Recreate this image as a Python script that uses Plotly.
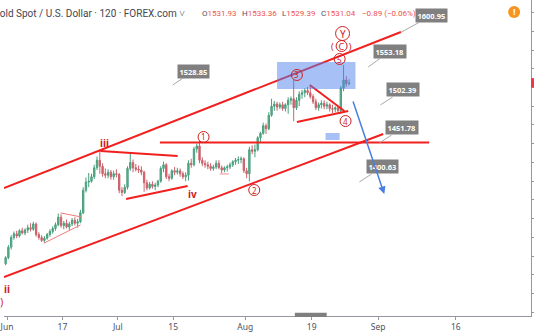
import plotly.graph_objects as go
import pandas as pd

# ---------------- candle data (12h bars) ----------------
days = pd.bdate_range("2019-06-03", "2019-08-27")
bar_times = ["2019-05-31 18:00"] + [f"{d:%Y-%m-%d} {h}" for d in days for h in ("06:00", "18:00")]

opens = [1290,
    1298,1312, 1325,1330, 1327,1334, 1331,1335, 1338,1336,
    1343,1329, 1325,1321, 1324,1329, 1333,1337, 1342,1352,
    1341,1344, 1339,1343, 1348,1344, 1346,1358, 1388,1399,
    1400,1406, 1418,1428, 1420,1410, 1408,1412, 1406,1410,
    1409,1388, 1385,1392, 1417,1425, 1418,1416, 1415,1412,
    1398,1391, 1396,1393, 1395,1400, 1417,1422, 1406,1404,
    1414,1412, 1414,1410, 1406,1408, 1424,1422, 1443,1447,
    1428,1424, 1422,1420, 1417,1419, 1424,1418, 1415,1418,
    1419,1422, 1426,1428, 1429,1430, 1414,1410, 1442,1440,
    1442,1458, 1464,1474, 1470,1488, 1500,1503, 1499,1502,
    1497,1502, 1508,1510, 1498,1508, 1516,1518, 1521,1518,
    1513,1506, 1498,1502, 1504,1500, 1502,1497, 1496,1498,
    1494,1524, 1535,1530]
highs = [1300,
    1315,1328, 1333,1334, 1336,1338, 1337,1342, 1344,1346,
    1345,1332, 1328,1327, 1331,1336, 1340,1345, 1357,1356,
    1347,1349, 1346,1351, 1352,1350, 1362,1392, 1405,1411,
    1410,1422, 1433,1442, 1424,1417, 1416,1415, 1414,1416,
    1411,1392, 1396,1420, 1437,1429, 1423,1421, 1420,1414,
    1402,1399, 1400,1398, 1402,1420, 1426,1424, 1410,1416,
    1419,1418, 1417,1413, 1412,1428, 1430,1446, 1450,1454,
    1432,1428, 1426,1424, 1422,1428, 1428,1421, 1420,1422,
    1425,1428, 1431,1433, 1433,1432, 1418,1446, 1448,1449,
    1460,1466, 1478,1477, 1492,1510, 1507,1506, 1505,1506,
    1504,1512, 1513,1535, 1512,1520, 1522,1524, 1526,1528,
    1516,1510, 1505,1508, 1508,1506, 1504,1502, 1500,1500,
    1527,1555, 1540,1536]
lows = [1288,
    1296,1309, 1322,1324, 1325,1329, 1328,1331, 1333,1334,
    1326,1322, 1319,1318, 1322,1326, 1330,1334, 1340,1338,
    1336,1337, 1335,1340, 1341,1338, 1344,1356, 1385,1392,
    1398,1403, 1415,1410, 1406,1404, 1404,1402, 1402,1405,
    1384,1380, 1383,1389, 1414,1412, 1413,1411, 1408,1386,
    1388,1389, 1390,1388, 1392,1398, 1412,1403, 1400,1402,
    1408,1409, 1406,1403, 1400,1401, 1418,1420, 1438,1424,
    1420,1418, 1416,1414, 1414,1416, 1416,1411, 1412,1413,
    1416,1419, 1422,1423, 1424,1411, 1404,1400, 1436,1432,
    1440,1452, 1462,1463, 1468,1486, 1494,1494, 1496,1494,
    1493,1490, 1502,1480, 1495,1500, 1510,1512, 1515,1510,
    1503,1495, 1494,1497, 1496,1496, 1493,1491, 1492,1490,
    1490,1520, 1526,1528]
closes = [1298,
    1312,1325, 1330,1327, 1334,1331, 1335,1338, 1336,1343,
    1329,1325, 1321,1324, 1329,1333, 1337,1342, 1352,1341,
    1344,1339, 1343,1348, 1344,1346, 1358,1388, 1399,1400,
    1406,1418, 1428,1420, 1410,1408, 1412,1406, 1410,1409,
    1388,1385, 1392,1417, 1425,1418, 1416,1415, 1412,1398,
    1391,1396, 1393,1395, 1400,1417, 1422,1406, 1404,1414,
    1412,1414, 1410,1406, 1408,1424, 1422,1443, 1447,1428,
    1424,1422, 1420,1417, 1419,1424, 1418,1415, 1418,1419,
    1422,1426, 1428,1429, 1430,1414, 1410,1442, 1440,1442,
    1458,1464, 1474,1470, 1488,1500, 1503,1499, 1502,1497,
    1502,1508, 1510,1498, 1508,1516, 1518,1521, 1518,1513,
    1506,1498, 1502,1504, 1500,1502, 1497,1496, 1498,1494,
    1524,1535, 1530,1531]

# ---------------- drawn trend lines (date, price) ----------------
upper_channel_x = ["2019-05-31 11:00", "2019-09-06 02:24"]
upper_channel_y = [1391.0, 1599.0]
lower_channel_x = ["2019-05-31 11:00", "2019-09-02 21:36"]
lower_channel_y = [1272.3, 1463.0]
level_x = ["2019-07-10 14:24", "2019-09-11 05:00"]
level_y = [1451.78, 1451.78]
iii_upper_x = ["2019-06-25 20:24", "2019-07-15 19:12"]
iii_upper_y = [1440.3, 1433.7]
iii_lower_x = ["2019-07-02 12:00", "2019-07-17 14:24"]
iii_lower_y = [1376.3, 1393.7]
small_upper_x = ["2019-06-14 16:19", "2019-06-20 10:34"]
small_upper_y = [1357.7, 1352.3]
small_lower_x = ["2019-06-11 15:07", "2019-06-20 06:14"]
small_lower_y = [1317.3, 1341.7]
aug_upper_x = ["2019-08-16 15:50", "2019-08-26 21:36"]
aug_upper_y = [1528.3, 1493.7]
aug_lower_x = ["2019-08-14 07:55", "2019-08-27 14:24"]
aug_lower_y = [1479.0, 1493.7]
dash_x = ["2019-07-25 09:36", "2019-07-30 04:48"]
dash_y = [1409.7, 1409.7]

# boxes
zone_x = ["2019-08-08 18:00", "2019-08-28 21:36"]
zone_y = [1523.0, 1559.0]
mini_x = ["2019-08-21 12:00", "2019-08-26 01:00"]
mini_y = [1455.0, 1464.3]

# projection arrow (start, end)
arrow_x = ["2019-08-28 09:00", "2019-09-03 02:24"]
arrow_y = [1508.3, 1383.0]

# wave labels
circle_labels = ["1", "2", "3", "4", "5"]
circle_x = ["2019-07-22 11:30", "2019-08-02 15:00", "2019-08-14 08:00", "2019-08-27 02:40", "2019-08-26 01:00"]
circle_y = [1459.0, 1388.3, 1541.7, 1480.3, 1563.0]
roman_labels = ["iii", "iv", "ii"]
roman_x = ["2019-06-26 13:30", "2019-07-18 12:15", "2019-06-03 00:00"]
roman_y = [1451.0, 1383.0, 1256.3]

# price labels (text, anchor date, anchor price)
price_labels = ["1600.95", "1553.18", "1528.85", "1502.39", "1451.78", "1400.63"]
price_label_x = ["2019-09-06 02:24", "2019-08-31 04:48", "2019-07-12 21:36",
                 "2019-09-02 09:36", "2019-09-02 04:48", "2019-08-29 14:24"]
price_label_y = [1598.5, 1552.3, 1528.3, 1501.7, 1451.0, 1399.0]
label_dx = [31, 22, 21, 23, 23, 23]
label_dy = [-17, -16, -14, -15, -15, -15]

# header quote
quote_keys = ["O", "H", "L", "C"]
quote_vals = ["1531.93", "1533.36", "1529.39", "1531.04"]
quote_change = "−0.89 (−0.06%)"

tick_dates = ["2019-06-03", "2019-06-17", "2019-07-01", "2019-07-15",
              "2019-08-01", "2019-08-19", "2019-09-02", "2019-09-16"]
tick_text = ["Jun", "17", "Jul", "15", "Aug", "19", "Sep", "16"]

RED = "#f21f1f"
WAVE_RED = "#cf2020"
PLOT_W, PLOT_H = 531, 316

fig = go.Figure()
fig.add_trace(go.Candlestick(
    x=bar_times, open=opens, high=highs, low=lows, close=closes,
    increasing=dict(line=dict(color="#4a9e7e", width=1), fillcolor="#53b987"),
    decreasing=dict(line=dict(color="#c9646c", width=1), fillcolor="#eb4d5c"),
    whiskerwidth=0, showlegend=False, hoverinfo="skip"))

def add_line(xs, ys, color=RED, width=2, dash="solid"):
    fig.add_trace(go.Scatter(x=xs, y=ys, mode="lines", showlegend=False, hoverinfo="skip",
                             line=dict(color=color, width=width, dash=dash)))

add_line(upper_channel_x, upper_channel_y)
add_line(lower_channel_x, lower_channel_y)
add_line(level_x, level_y)
add_line(iii_upper_x, iii_upper_y)
add_line(iii_lower_x, iii_lower_y)
add_line(small_upper_x, small_upper_y, color="#f07a7a", width=1)
add_line(small_lower_x, small_lower_y, color="#f07a7a", width=1)
add_line(aug_upper_x, aug_upper_y)
add_line(aug_lower_x, aug_lower_y)
add_line(dash_x, dash_y, color="#f08a8a", width=1, dash="dash")

shapes = []
shapes.append(dict(type="rect", xref="x", yref="y", x0=zone_x[0], x1=zone_x[1], y0=zone_y[0], y1=zone_y[1],
                   fillcolor="rgba(79,130,237,0.5)", line=dict(width=0), layer="above"))
shapes.append(dict(type="rect", xref="x", yref="y", x0=mini_x[0], x1=mini_x[1], y0=mini_y[0], y1=mini_y[1],
                   fillcolor="rgba(79,130,237,0.5)", line=dict(width=0), layer="above"))

def circle(xv, yv, r, color=WAVE_RED):
    shapes.append(dict(type="circle", xref="x", yref="y", xsizemode="pixel", ysizemode="pixel",
                       xanchor=xv, yanchor=yv, x0=-r, x1=r, y0=-r, y1=r,
                       line=dict(color=color, width=1), fillcolor="rgba(0,0,0,0)"))

annotations = []
for t, xv, yv in zip(circle_labels, circle_x, circle_y):
    circle(xv, yv, 5.5)
    annotations.append(dict(x=xv, y=yv, text=t, showarrow=False, xanchor="center", yanchor="middle",
                            font=dict(size=8, color=WAVE_RED, family="Noto Sans")))

# Y and (C)
circle("2019-08-26 13:40", 1597.0, 7)
annotations.append(dict(x="2019-08-26 13:40", y=1597.0, text="Y", showarrow=False,
                        xanchor="center", yanchor="middle",
                        font=dict(size=10, color=WAVE_RED, family="Noto Sans")))
circle("2019-08-26 09:24", 1580.3, 5.5)
annotations.append(dict(x="2019-08-26 09:24", y=1580.3, text="(  C  )", showarrow=False,
                        xanchor="center", yanchor="middle",
                        font=dict(size=9, color=WAVE_RED, family="Noto Sans")))

for t, xv, yv in zip(roman_labels, roman_x, roman_y):
    annotations.append(dict(x=xv, y=yv, text=f"<b>{t}</b>", showarrow=False,
                            xanchor="center", yanchor="middle",
                            font=dict(size=10, color=WAVE_RED, family="Noto Sans")))
annotations.append(dict(x="2019-06-03 04:00", y=1239.0, text="(ii)", showarrow=False,
                        xanchor="right", yanchor="middle", xshift=-3,
                        font=dict(size=10, color=WAVE_RED, family="Noto Sans")))

for t, xv, yv, dx, dy in zip(price_labels, price_label_x, price_label_y, label_dx, label_dy):
    annotations.append(dict(x=xv, y=yv, text=f"<b>{t}</b>", showarrow=True, arrowhead=0,
                            arrowwidth=1, arrowcolor="#a9a9a9", ax=dx, ay=dy,
                            bgcolor="#808080", borderpad=1.5,
                            font=dict(size=7.5, color="white", family="Noto Sans")))

annotations.append(dict(x=arrow_x[1], y=arrow_y[1], ax=arrow_x[0], ay=arrow_y[0],
                        axref="x", ayref="y", xref="x", yref="y", text="", showarrow=True,
                        arrowhead=2, arrowsize=1, arrowwidth=1.5, arrowcolor="#4a7fe0"))

# header
HY = (PLOT_H - 13) / PLOT_H
annotations.append(dict(xref="paper", yref="paper", x=0, y=HY, xanchor="left", yanchor="middle", xshift=-13,
                        text="Gold Spot / U.S. Dollar · 120 · FOREX.com ˅", showarrow=False,
                        font=dict(size=10, color="#434651", family="Roboto")))
quote_px = [197, 238, 278, 317]
for k, v, px in zip(quote_keys, quote_vals, quote_px):
    annotations.append(dict(xref="paper", yref="paper", x=px / PLOT_W, y=HY, xanchor="left", yanchor="middle",
                            showarrow=False, text=f"<span style='color:#50535e'>{k}</span>{v}",
                            font=dict(size=8, color="#ef5350", family="Roboto")))
annotations.append(dict(xref="paper", yref="paper", x=359 / PLOT_W, y=HY, xanchor="left", yanchor="middle",
                        showarrow=False, text=quote_change,
                        font=dict(size=8, color="#ef5350", family="Roboto")))

# orange alert badge
BX, BY = 514 / PLOT_W, (PLOT_H - 12) / PLOT_H
shapes.append(dict(type="circle", xref="paper", yref="paper", xsizemode="pixel", ysizemode="pixel",
                   xanchor=BX, yanchor=BY, x0=-6, x1=6, y0=-6, y1=6,
                   fillcolor="#f7931e", line=dict(width=0)))
annotations.append(dict(xref="paper", yref="paper", x=BX, y=BY, text="<b>!</b>", xanchor="center",
                        yanchor="middle", showarrow=False,
                        font=dict(size=9, color="white", family="Noto Sans")))

# last price tag on the axis
shapes.append(dict(type="rect", xref="paper", yref="y", xsizemode="pixel", xanchor=1, x0=0, x1=4,
                   y0=1525.0, y1=1537.5, fillcolor="#f23645", line=dict(width=0)))
# time-axis marker
shapes.append(dict(type="rect", xref="x", yref="paper", x0="2019-08-13 23:00", x1="2019-08-21 17:00",
                   y0=-0.003, y1=0.01, fillcolor="#7f7f7f", line=dict(width=0)))

weekend_breaks = [d.strftime("%Y-%m-%d") for d in pd.date_range("2019-06-01", "2019-08-25") if d.weekday() >= 5]

fig.update_layout(
    width=534, height=334, margin=dict(l=0, r=3, t=0, b=18),
    paper_bgcolor="white", plot_bgcolor="white",
    shapes=shapes, annotations=annotations, showlegend=False,
    xaxis=dict(type="date", range=["2019-05-31 11:00", "2019-09-29 14:00"],
               rangebreaks=[dict(values=weekend_breaks)],
               rangeslider=dict(visible=False), showgrid=False, zeroline=False,
               tickvals=tick_dates, ticktext=tick_text, ticks="outside", ticklen=3,
               ticklabeloverflow="allow",
               tickcolor="#9598a1", showline=True, linecolor="#9598a1", linewidth=1,
               tickfont=dict(size=8.5, color="#4c525e", family="Noto Sans")),
    yaxis=dict(range=[1220.3, 1641.67], side="right", showgrid=False, zeroline=False,
               showticklabels=False, ticks="outside", ticklen=3, dtick=25, tick0=0,
               tickcolor="#9598a1", showline=True, linecolor="#9598a1", linewidth=1),
)

fig.write_html("out.html")
